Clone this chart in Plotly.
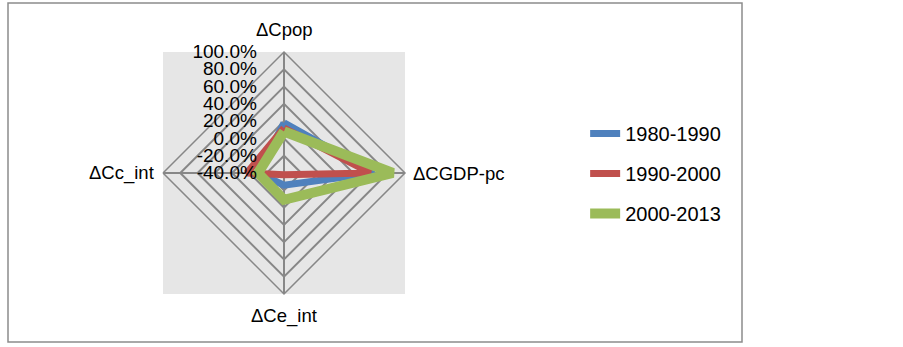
import plotly.graph_objects as go

categories = ["ΔCpop", "ΔCGDP-pc", "ΔCe_int", "ΔCc_int"]
series_names = ["1980-1990", "1990-2000", "2000-2013"]
v_1980_1990 = [18, 64, -26, -10]
v_1990_2000 = [12, 60, -38, 3]
v_2000_2013 = [8, 86, -9, -10]
series_values = [v_1980_1990, v_1990_2000, v_2000_2013]
colors = ["#4F81BD", "#C0504D", "#9BBB59"]
widths = [7, 7, 10]
tick_vals = [-40, -20, 0, 20, 40, 60, 80, 100]

W, H = 903, 347
cx, cy, R = 284, 173, 121

fig = go.Figure()
for name, vals, col, w in zip(series_names, series_values, colors, widths):
    fig.add_trace(go.Scatterpolar(
        r=vals + vals[:1], theta=categories + categories[:1],
        mode="lines", name=name, line=dict(color=col, width=w),
        legendgroup=name,
    ))

grid = "#878787"
fig.update_layout(
    width=W, height=H, margin=dict(l=0, r=0, t=0, b=0),
    paper_bgcolor="white", plot_bgcolor="white",
    showlegend=True,
    legend=dict(x=0.648, y=0.5, xanchor="left", yanchor="middle",
                font=dict(family="Liberation Sans", size=20, color="black"),
                tracegroupgap=11, bgcolor="rgba(0,0,0,0)"),
    polar=dict(
        domain=dict(x=[(cx - R) / W, (cx + R) / W],
                    y=[(H - cy - R) / H, (H - cy + R) / H]),
        gridshape="linear",
        bgcolor="rgba(0,0,0,0)",
        radialaxis=dict(range=[-40, 100], tickvals=tick_vals,
                        ticktext=[f"{v:.1f}%" for v in tick_vals],
                        angle=90, tickangle=90, side="counterclockwise",
                        showline=False, gridcolor=grid, gridwidth=1.5,
                        ticks="outside", ticklen=20, tickcolor="rgba(0,0,0,0)",
                        tickfont=dict(family="Liberation Sans", size=19, color="black")),
        angularaxis=dict(rotation=90, direction="clockwise",
                         showticklabels=False, ticks="",
                         showline=True, linecolor=grid, linewidth=1.5,
                         gridcolor=grid, gridwidth=1.5),
    ),
    shapes=[
        dict(type="rect", xref="paper", yref="paper", layer="below",
             x0=(cx - R) / W, x1=(cx + R) / W,
             y0=(H - cy - R) / H, y1=(H - cy + R) / H,
             fillcolor="#E6E6E6", line=dict(width=0)),
        dict(type="rect", xref="paper", yref="paper", layer="below",
             x0=8 / W, x1=742 / W, y0=(H - 342) / H, y1=(H - 3) / H,
             fillcolor="rgba(0,0,0,0)", line=dict(color="#8C8C8C", width=1.5)),
    ],
)

lab_font = dict(family="Liberation Sans", size=18.5, color="black")
label_pos = [
    (cx / W, (H - 30) / H, "center", "middle"),
    (411 / W, (H - cy) / H, "left", "middle"),
    (cx / W, (H - 316) / H, "center", "middle"),
    (156 / W, (H - cy) / H, "right", "middle"),
]
for cat, (x, y, xa, ya) in zip(categories, label_pos):
    fig.add_annotation(x=x, y=y, xref="paper", yref="paper", text=cat,
                       showarrow=False, xanchor=xa, yanchor=ya, font=lab_font)

fig.write_html("out.html", config={"displayModeBar": False},
               post_script="document.body.style.margin='0';")
